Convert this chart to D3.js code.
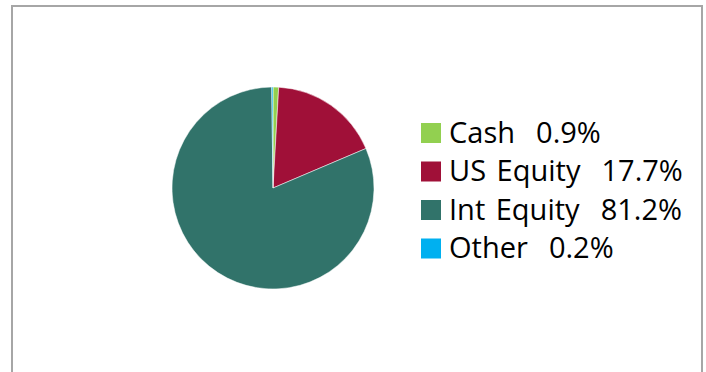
<!DOCTYPE html>
<html>
<head>
<meta charset="utf-8">
<script src="https://cdn.jsdelivr.net/npm/d3@7"></script>
<style>
  body { margin: 0; background: #fff; }
  .legend-label { font-family: "Open Sans", "Liberation Sans", sans-serif; fill: #000; }
</style>
</head>
<body>
<div id="chart"></div>
<script>
// Portfolio allocation pie
var categories = ["Cash", "US Equity", "Int Equity", "Other"];
var values = [0.9, 17.7, 81.2, 0.2];
var colors = ["#92d050", "#a01038", "#31736a", "#00b0f0"];

var width = 706, height = 372;

var svg = d3.select("#chart").append("svg")
    .attr("width", width)
    .attr("height", height);

// chart frame (bottom runs off the picture)
svg.append("rect")
    .attr("x", 12)
    .attr("y", 6)
    .attr("width", 690)
    .attr("height", 380)
    .attr("fill", "none")
    .attr("stroke", "#a6a6a6")
    .attr("stroke-width", 2);

var data = categories.map(function(c, i) { return { name: c, value: values[i], color: colors[i] }; });

var pie = d3.pie()
    .sort(null)
    .value(function(d) { return d.value; });

var arc = d3.arc()
    .innerRadius(0)
    .outerRadius(101);

var g = svg.append("g")
    .attr("transform", "translate(273,188)");

g.selectAll("path")
    .data(pie(data))
    .enter().append("path")
    .attr("d", arc)
    .attr("fill", function(d) { return d.data.color; })
    .attr("stroke", "#fff")
    .attr("stroke-width", 0.5);

// legend
var y = d3.scaleBand()
    .domain(categories)
    .range([113, 267]);

var legend = svg.append("g").selectAll("g")
    .data(data)
    .enter().append("g")
    .attr("transform", function(d) { return "translate(421," + y(d.name) + ")"; });

legend.append("rect")
    .attr("x", 0)
    .attr("y", 10)
    .attr("width", 20)
    .attr("height", 20)
    .attr("fill", function(d) { return d.color; });

legend.append("text")
    .attr("class", "legend-label")
    .attr("x", 28)
    .attr("y", 29.5)
    .style("font-size", "29px")
    .style("word-spacing", "3px")
    .attr("xml:space", "preserve")
    .text(function(d) { return d.name + "  " + d.value.toFixed(1) + "%"; });
</script>
</body>
</html>
